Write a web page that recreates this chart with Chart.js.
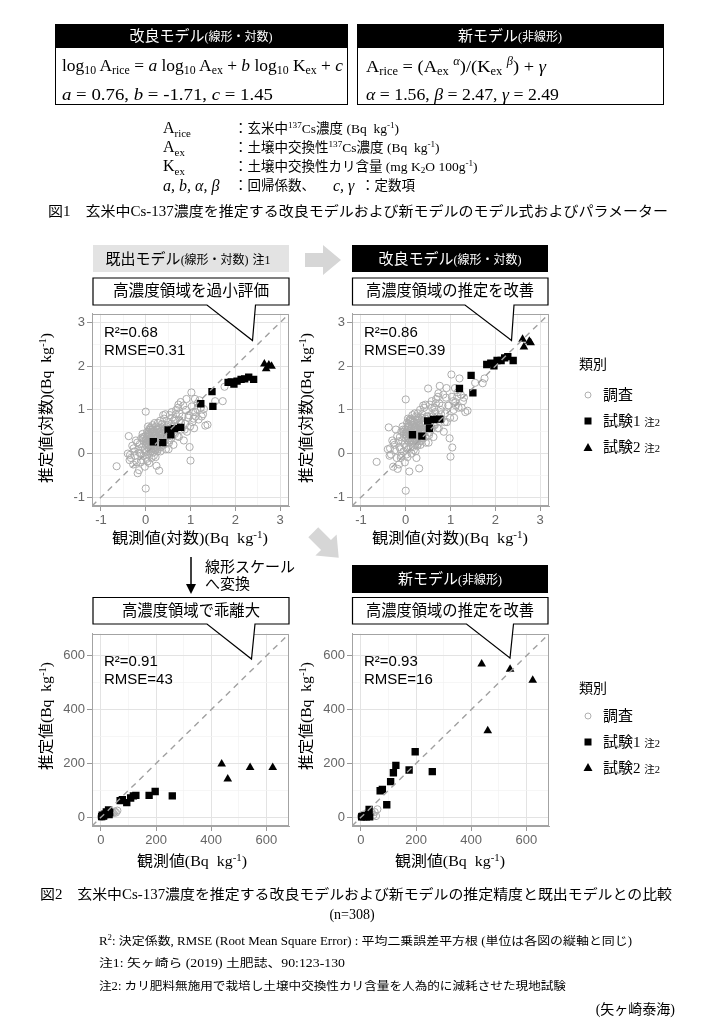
<!DOCTYPE html>
<html>
<head>
<meta charset="utf-8">
<script src="https://cdn.jsdelivr.net/npm/chart.js@4.4.1/dist/chart.umd.min.js"></script>
<style>
body { margin: 0; background: #fff; }
#page { position: relative; width: 705px; height: 1025px; overflow: hidden; color: #000;
  font-family: "Liberation Serif", "Noto Sans CJK JP", serif; }
.t { position: absolute; white-space: nowrap; line-height: 1.2; }
.sb { font-size: 0.68em; vertical-align: -0.3em; }
.sp { font-size: 0.68em; vertical-align: 0.55em; }
.small { font-size: 0.8em; }
.box { position: absolute; box-sizing: border-box; border: 1px solid #000; background: #fff; }
.head { position: absolute; box-sizing: border-box; text-align: center; }
canvas { position: absolute; }
svg { position: absolute; left: 0; top: 0; }
</style>
</head>
<body>
<div id="page">
  <div class="box" style="left:55px;top:24px;width:293px;height:81px;"></div>
  <div class="box" style="left:357px;top:24px;width:307px;height:81px;"></div>
  <div class="head" style="left:55px;top:24px;width:293px;height:24px;background:#000;"></div>
  <div class="head" style="left:357px;top:24px;width:307px;height:24px;background:#000;"></div>
  <div class="head" style="left:93px;top:245px;width:196px;height:27px;background:#e3e3e3;"></div>
  <div class="head" style="left:352px;top:245px;width:196px;height:27px;background:#000;"></div>
  <div class="head" style="left:352px;top:565px;width:196px;height:28px;background:#000;"></div>

  <canvas id="p1" width="245" height="226" style="left:52px;top:304px;"></canvas>
  <canvas id="p2" width="245" height="226" style="left:312px;top:304px;"></canvas>
  <canvas id="p3" width="245" height="226" style="left:52px;top:624px;"></canvas>
  <canvas id="p4" width="245" height="226" style="left:312px;top:624px;"></canvas>

  <svg width="705" height="1025">
    <!-- gray flow arrows -->
    <polygon points="-18,-7 0,-7 0,-15 18,0 0,15 0,7 -18,7" fill="#d6d6d6" transform="translate(323,260)"/>
    <polygon points="-18,-7 0,-7 0,-15 18,0 0,15 0,7 -18,7" fill="#d6d6d6" transform="translate(326,545) rotate(45)"/>
    <!-- down arrow -->
    <line x1="191" y1="557" x2="191" y2="586" stroke="#000" stroke-width="1.5"/>
    <polygon points="186,584 196,584 191,594" fill="#000"/>
    <!-- callouts -->
    <path d="M93,278 H289 V305 H255.5 L252.5,340.5 L207,305 H93 Z" fill="#fff" stroke="#000" stroke-width="1.2"/>
    <path d="M352.5,278 H548 V305 H514 L511.5,340.5 L465,305 H352.5 Z" fill="#fff" stroke="#000" stroke-width="1.2"/>
    <path d="M93,597.5 H289 V624 H255 L251.5,659 L207,624 H93 Z" fill="#fff" stroke="#000" stroke-width="1.2"/>
    <path d="M352.5,597.5 H548 V624 H513.5 L510,658 L466.5,624 H352.5 Z" fill="#fff" stroke="#000" stroke-width="1.2"/>
    <!-- legend symbols -->
    <circle cx="588" cy="395" r="3" fill="none" stroke="#b0b0b0" stroke-width="1"/>
    <rect x="584.5" y="417.5" width="7" height="7" fill="#000"/>
    <polygon points="588,443 592.5,451 583.5,451" fill="#000"/>
    <circle cx="588" cy="716" r="3" fill="none" stroke="#b0b0b0" stroke-width="1"/>
    <rect x="584.5" y="738.5" width="7" height="7" fill="#000"/>
    <polygon points="588,763 592.5,771 583.5,771" fill="#000"/>
  </svg>
</div>

<script>
// ---- data (log10 scale, Bq kg-1) ----
// survey fields (調査): observed, existing-model prediction, improved-model prediction
const surveyObsLog = [
  -0.65, -0.38, -0.35, -0.33, -0.30, -0.28, -0.25, -0.22, -0.20, -0.18,
  -0.16, -0.15, -0.13, -0.12, -0.10, -0.10, -0.08, -0.07, -0.05, -0.04,
  -0.03, -0.02, -0.01, 0.00, 0.00, 0.00, 0.01, 0.02, 0.02, 0.03,
  0.04, 0.05, 0.05, 0.06, 0.07, 0.08, 0.08, 0.09, 0.10, 0.10,
  0.11, 0.12, 0.12, 0.13, 0.14, 0.15, 0.15, 0.16, 0.17, 0.18,
  0.18, 0.19, 0.20, 0.20, 0.21, 0.22, 0.23, 0.24, 0.25, 0.25,
  0.26, 0.27, 0.28, 0.29, 0.30, 0.30, 0.31, 0.32, 0.33, 0.34,
  0.35, 0.36, 0.37, 0.38, 0.40, 0.41, 0.42, 0.44, 0.45, 0.47,
  0.48, 0.50, 0.52, 0.54, 0.55, 0.57, 0.58, 0.60, 0.62, 0.64,
  0.65, 0.67, 0.70, 0.72, 0.74, 0.76, 0.78, 0.80, 0.82, 0.85,
  0.88, 0.90, 0.92, 0.95, 0.98, 1.00, 1.02, 1.04, 1.06, 1.08,
  1.10, 1.12, 1.15, 1.18, 1.20, 1.23, 1.28, 1.33, 1.38, 1.72,
  0.00, 0.05, 0.10, 0.15, 0.20, 0.25, 0.30, 0.35, -0.05, 0.12,
  1.76, 1.55,
  0.02, 0.06, 0.09, 0.13, 0.16, 0.19, 0.22, 0.24, 0.27, 0.29,
  0.31, 0.33, 0.36, 0.39, 0.43, 0.46, 0.03, 0.08, 0.14, 0.21,
  0.26, 0.32, 0.38, 0.11, 0.17, 0.23, 0.28, 0.06, 0.19, 0.34,
  -0.40, -0.36, -0.27, -0.24, -0.19, -0.14, -0.11, -0.06, 0.04, 0.09,
  0.16, 0.22, 0.27, 0.33, 0.39, 0.44, 0.49, 0.53, 0.59, 0.63,
  0.68, 0.71, 0.75, 0.79, 0.84, 0.87, 0.91, 0.96, 0.99, 1.03,
  1.07, 1.11, 1.16, 1.25, 1.30, 0.57, 0.66, 0.73, 0.44, 0.51
];
const surveyOldLog = [
  -0.29, 0.40, -0.03, -0.10, 0.18, -0.25, 0.05, 0.30, -0.20, -0.45,
  0.10, -0.38, 0.22, 0.00, 0.35, -0.15, 0.15, 0.45, -0.05, 0.28,
  0.08, -0.30, 0.40, 0.96, -0.80, 0.20, 0.05, 0.32, -0.12, 0.50,
  0.15, 0.62, -0.02, 0.30, 0.42, 0.10, -0.22, 0.25, 0.55, 0.35,
  0.05, 0.40, 0.20, -0.10, 0.48, 0.30, 0.65, 0.12, 0.38, -0.05,
  0.28, 0.52, 0.18, 0.70, 0.08, 0.42, 0.33, -0.28, 0.55, 0.22,
  0.38, 0.10, 0.60, 0.30, 0.46, -0.39, 0.25, 0.75, 0.40, 0.15,
  0.52, 0.35, 0.68, 0.20, 0.45, 0.80, 0.30, 0.58, 0.10, 0.62,
  0.40, 0.72, 0.25, 0.88, 0.50, 0.35, 0.95, 0.60, 0.20, 0.78,
  0.45, 0.90, 0.62, 1.05, 0.38, 0.75, 1.18, 0.55, 0.85, 0.30,
  0.68, 1.00, 0.50, 0.82, 0.15, -0.16, 1.40, 0.72, 0.95, 0.58,
  1.25, 0.85, 1.02, 0.78, 1.22, 1.05, 0.90, 0.64, 0.66, 1.20,
  0.30, 0.45, 0.15, 0.55, 0.40, 0.12, 0.50, 0.28, 0.35, 0.60,
  1.53, 1.20,
  0.25, 0.45, 0.30, 0.18, 0.50, 0.35, 0.42, 0.15, 0.55, 0.28,
  0.48, 0.22, 0.60, 0.38, 0.50, 0.42, 0.38, 0.20, 0.32, 0.45,
  0.05, 0.58, 0.48, 0.55, 0.12, 0.62, 0.35, 0.50, 0.25, 0.30,
  0.00, -0.15, 0.12, -0.05, 0.25, 0.02, -0.20, 0.38, -0.18, 0.58,
  0.02, -0.08, 0.70, 0.05, 0.88, 0.22, 0.65, 0.30, 0.82, 0.48,
  1.00, 0.40, 0.92, 0.70, 1.10, 0.55, 1.25, 0.88, 0.62, 1.08,
  0.80, 0.95, 1.15, 0.85, 1.02, 0.68, 0.75, 1.12, 0.90, 0.10
];
const surveyNewLog = [
  -0.19, 0.60, 0.12, -0.02, 0.30, -0.30, 0.20, 0.55, -0.10, -0.35,
  0.28, -0.25, 0.38, 0.10, 0.50, -0.05, 0.30, 0.62, 0.05, 0.45,
  0.22, -0.20, 0.55, 1.24, -0.85, 0.35, 0.15, 0.48, -0.02, 0.70,
  0.30, 0.80, 0.10, 0.45, 0.60, 0.25, -0.41, 0.40, 0.75, 0.52,
  0.15, 0.58, 0.35, 0.00, 0.65, 0.45, 0.88, 0.25, 0.55, 0.08,
  0.42, 0.72, 0.32, 0.92, 0.20, 0.60, 0.50, -0.10, 0.78, 0.38,
  0.55, 0.22, 0.82, 0.48, 0.65, -0.34, 0.42, 1.00, 0.60, 0.28,
  0.72, 0.55, 0.90, 0.35, 0.65, 1.05, 0.48, 0.80, 0.25, 0.85,
  0.60, 1.49, 0.42, 1.12, 0.72, 0.55, 1.20, 0.85, 0.38, 1.05,
  0.65, 1.15, 0.85, 1.30, 0.58, 1.55, 1.00, 0.78, 1.10, 0.50,
  0.92, 1.28, 0.72, 1.10, 0.35, -0.07, 1.81, 0.14, 1.20, 0.82,
  1.50, 1.10, 1.30, 1.05, 1.72, 1.35, 1.20, 0.95, 0.98, 1.61,
  0.45, 0.62, 0.30, 0.75, 0.58, 0.28, 0.70, 0.45, 0.50, 0.80,
  1.72, 1.62,
  0.40, 0.62, 0.50, 0.30, 0.70, 0.52, 0.60, 0.28, 0.75, 0.45,
  0.65, 0.38, 0.82, 0.55, 0.70, 0.60, 0.55, 0.35, 0.48, 0.62,
  0.18, 0.78, 0.66, 0.72, 0.28, 0.85, 0.52, 0.68, 0.40, 0.47,
  0.10, -0.05, 0.25, 0.08, 0.40, 0.15, -0.10, 0.55, -0.08, 0.78,
  0.15, 0.05, 0.92, 0.20, 1.10, 0.38, 0.85, 0.48, 1.05, 0.65,
  1.25, 0.58, 1.15, 0.90, 1.35, 0.72, 1.50, 1.10, 0.82, 1.30,
  1.00, 1.18, 1.40, 1.05, 1.28, 0.88, 0.95, 1.38, 1.12, 0.25
];

// trial 1 (試験1) and trial 2 (試験2), log scale
const trial1ObsOldLog = [0.17, 0.38, 0.50, 0.56, 0.64, 0.78, 1.23, 1.48, 1.50, 1.84, 1.91, 1.97, 2.04, 2.13, 2.21, 2.30, 2.41];
const trial1OldLog    = [0.27, 0.25, 0.54, 0.43, 0.57, 0.60, 1.14, 1.42, 1.08, 1.63, 1.64, 1.59, 1.66, 1.70, 1.71, 1.75, 1.70];
const trial1ObsNewLog = [0.15, 0.36, 0.49, 0.53, 0.62, 0.76, 1.20, 1.46, 1.50, 1.81, 1.90, 1.97, 2.04, 2.13, 2.21, 2.28, 2.40];
const trial1NewLog    = [0.43, 0.40, 0.75, 0.58, 0.78, 0.79, 1.49, 1.79, 1.39, 2.04, 2.07, 2.01, 2.13, 2.13, 2.19, 2.22, 2.13];
const trial2ObsOldLog = [2.65, 2.69, 2.75, 2.81];
const trial2OldLog    = [2.05, 1.94, 2.03, 2.00];
const trial2ObsNewLog = [2.61, 2.64, 2.76, 2.79];
const trial2NewLog    = [2.62, 2.44, 2.57, 2.54];

// linear scale (Bq kg-1)
const surveyObsLin = [1, 2, 3, 4, 5, 6, 8, 10, 12, 15, 18, 20, 25, 30, 35, 40, 45, 50, 55, 60, 8, 14, 22];
const surveyOldLin = [2, 3, 2, 4, 5, 3, 6, 8, 6, 10, 12, 9, 15, 14, 18, 20, 16, 22, 18, 25, 12, 4, 20];
const surveyNewLin = [3, 2, 4, 3, 6, 2, 5, 7, 3, 8, 10, 6, 12, 10, 15, 18, 8, 20, 5, 30, 10, 2, 16];
const trial1ObsLin = [3, 5, 10, 15, 20, 28, 30, 32, 70, 78, 94, 108, 118, 127, 175, 197, 259];
const trial1OldLin = [3, 8, 5, 12, 20, 28, 10, 18, 62, 66, 55, 72, 80, 82, 82, 96, 80];
const trial1NewLin = [2, 4, 3, 6, 2, 10, 30, 2, 99, 104, 47, 133, 166, 193, 176, 244, 170];
const trial2ObsLin = [438, 460, 541, 623];
const trial2OldLin = [198, 143, 185, 185];
const trial2NewLin = [570, 322, 550, 509];

// axes
const logRange = [-1.2, 3.2];
const logTicks = [-1, -0.5, 0, 0.5, 1, 1.5, 2, 2.5, 3];
const logMajor = [-1, 0, 1, 2, 3];
const linRange = [-32, 682];
const linTicks = [0, 100, 200, 300, 400, 500, 600];
const linMajor = [0, 200, 400, 600];

const statLabels = [
  ['R²=0.68', 'RMSE=0.31'],
  ['R²=0.86', 'RMSE=0.39'],
  ['R²=0.91', 'RMSE=43'],
  ['R²=0.93', 'RMSE=16']
];

function pairs(xs, ys) {
  return xs.map((x, i) => ({ x: x, y: ys[i] }));
}

// border on all four sides of the panel
const framePlugin = {
  id: 'frame',
  afterDraw(chart) {
    const a = chart.chartArea;
    const c = chart.ctx;
    c.save();
    c.strokeStyle = '#a3a3a3';
    c.lineWidth = 1;
    c.strokeRect(Math.round(a.left) + 0.5, Math.round(a.top) + 0.5, Math.round(a.right - a.left) - 1, Math.round(a.bottom - a.top) - 1);
    c.restore();
  }
};

const statsPlugin = {
  id: 'stats',
  afterDraw(chart, args, opts) {
    const a = chart.chartArea;
    const c = chart.ctx;
    c.save();
    c.font = '15px "Liberation Sans"';
    c.fillStyle = '#000';
    c.textBaseline = 'middle';
    opts.lines.forEach((s, i) => c.fillText(s, a.left + opts.dx, a.top + opts.dy + i * 18));
    c.restore();
  }
};

function axis(range, ticks, majors, isY) {
  const major = c => c.tick && majors.includes(c.tick.value);
  return {
    type: 'linear',
    min: range[0],
    max: range[1],
    afterBuildTicks: a => { a.ticks = ticks.map(v => ({ value: v })); },
    afterFit: s => { if (isY) s.width = 40; else s.height = 24; },
    ticks: {
      autoSkip: false, maxRotation: 0, padding: 2, color: '#666',
      font: { family: 'Liberation Sans', size: 13 },
      callback: v => majors.includes(v) ? String(v) : ''
    },
    grid: {
      color: c => major(c) ? '#e3e3e3' : '#f2f2f2',
      lineWidth: c => major(c) ? 1 : 0.7,
      tickLength: 5,
      tickColor: c => major(c) ? '#999' : 'rgba(0,0,0,0)'
    },
    border: { display: true, color: '#a3a3a3', width: 1 }
  };
}

function makePanel(id, range, ticks, majors, survey, t1, t2, stats, dy) {
  new Chart(document.getElementById(id), {
    type: 'scatter',
    data: {
      datasets: [
        { type: 'line', data: [{ x: range[0], y: range[0] }, { x: range[1], y: range[1] }],
          borderColor: '#a0a0a0', borderWidth: 1.4, borderDash: [6, 5], pointRadius: 0, fill: false },
        { data: t2, pointStyle: 'triangle', pointRadius: 5, backgroundColor: '#000', borderColor: '#000', borderWidth: 0 },
        { data: t1, pointStyle: 'rect', pointRadius: 5.2, backgroundColor: '#000', borderColor: '#000', borderWidth: 0 },
        { data: survey, pointStyle: 'circle', pointRadius: 3.6, backgroundColor: 'rgba(0,0,0,0)', borderColor: '#acacac', borderWidth: 1 }
      ]
    },
    options: {
      responsive: false,
      animation: false,
      layout: { padding: { top: 6, right: 8, left: 0, bottom: 0 } },
      plugins: {
        legend: { display: false },
        tooltip: { enabled: false },
        stats: { lines: stats, dx: 12, dy: dy }
      },
      scales: {
        x: axis(range, ticks, majors, false),
        y: axis(range, ticks, majors, true)
      }
    },
    plugins: [framePlugin, statsPlugin]
  });
}

makePanel('p1', logRange, logTicks, logMajor, pairs(surveyObsLog, surveyOldLog),
  pairs(trial1ObsOldLog, trial1OldLog), pairs(trial2ObsOldLog, trial2OldLog), statLabels[0], 19);
makePanel('p2', logRange, logTicks, logMajor, pairs(surveyObsLog, surveyNewLog),
  pairs(trial1ObsNewLog, trial1NewLog), pairs(trial2ObsNewLog, trial2NewLog), statLabels[1], 19);
makePanel('p3', linRange, linTicks, linMajor, pairs(surveyObsLin, surveyOldLin),
  pairs(trial1ObsLin, trial1OldLin), pairs(trial2ObsLin, trial2OldLin), statLabels[2], 28);
makePanel('p4', linRange, linTicks, linMajor, pairs(surveyObsLin, surveyNewLin),
  pairs(trial1ObsLin, trial1NewLin), pairs(trial2ObsLin, trial2NewLin), statLabels[3], 28);

// ---- text ----
const page = document.getElementById('page');
function label(html, x, y, o) {
  o = o || {};
  const el = document.createElement('div');
  el.className = 't';
  el.innerHTML = html;
  el.style.fontSize = (o.size || 14) + 'px';
  if (o.color) el.style.color = o.color;
  el.style.left = x + 'px';
  el.style.top = y + 'px';
  el.style.zIndex = 5;
  page.appendChild(el);
  const align = o.align || 'left';
  let k = 1;
  if (o.w) k = o.w / el.getBoundingClientRect().width;
  if (o.rot) {
    el.style.transformOrigin = 'center center';
    el.style.transform = 'translate(-50%,-50%) rotate(-90deg) scaleX(' + k + ')';
  } else if (align === 'center') {
    el.style.transformOrigin = 'center center';
    el.style.transform = 'translate(-50%,-50%) scaleX(' + k + ')';
  } else if (align === 'right') {
    el.style.transformOrigin = 'right center';
    el.style.transform = 'translate(-100%,-50%) scaleX(' + k + ')';
  } else {
    el.style.transformOrigin = 'left center';
    el.style.transform = 'translateY(-50%) scaleX(' + k + ')';
  }
  return el;
}

const kg = '(Bq&nbsp;&nbsp;kg<span class="sp">-1</span>)';

// figure 1
label('改良モデル<span class="small">(線形・対数)</span>', 201, 36, { size: 15, align: 'center', color: '#fff' });
label('新モデル<span class="small">(非線形)</span>', 510, 36, { size: 15, align: 'center', color: '#fff' });
label('log<span class="sb">10</span> A<span class="sb">rice</span> = <i>a</i> log<span class="sb">10</span> A<span class="sb">ex</span> + <i>b</i> log<span class="sb">10</span> K<span class="sb">ex</span> + <i>c</i>', 62, 67, { size: 17, w: 281 });
label('<i>a</i> = 0.76, <i>b</i> = -1.71, <i>c</i> = 1.45', 62, 95, { size: 17, w: 211 });
label('A<span class="sb">rice</span> = (A<span class="sb">ex</span> <span class="sp"><i>α</i></span>)/(K<span class="sb">ex</span> <span class="sp"><i>β</i></span>) + <i>γ</i>', 366, 67, { size: 17, w: 180 });
label('<i>α</i> = 1.56, <i>β</i> = 2.47, <i>γ</i> = 2.49', 366, 95, { size: 17, w: 193 });

label('A<span class="sb">rice</span>', 163, 129, { size: 16 });
label('A<span class="sb">ex</span>', 163, 148, { size: 16 });
label('K<span class="sb">ex</span>', 163, 167, { size: 16 });
label('<i>a, b, α, β</i>', 163, 186, { size: 16 });
label('：玄米中<span class="sp">137</span>Cs濃度 ' + kg, 234, 129, { size: 13.5 });
label('：土壌中交換性<span class="sp">137</span>Cs濃度 ' + kg, 234, 148, { size: 13.5 });
label('：土壌中交換性カリ含量 (mg&nbsp;K<span class="sb">2</span>O&nbsp;100g<span class="sp">-1</span>)', 234, 167, { size: 13.5 });
label('：回帰係数、', 234, 186, { size: 13.5 });
label('<i>c, γ</i>', 333, 186, { size: 16 });
label('：定数項', 361, 186, { size: 13.5 });
label('図1　玄米中Cs-137濃度を推定する改良モデルおよび新モデルのモデル式およびパラメーター', 48, 212, { size: 14, w: 620 });

// panel headings and callouts
label('既出モデル<span class="small">(線形・対数)</span> <span style="font-size:0.8em">注1</span>', 188, 259, { size: 15, align: 'center' });
label('改良モデル<span class="small">(線形・対数)</span>', 450, 259, { size: 15, align: 'center', color: '#fff' });
label('新モデル<span class="small">(非線形)</span>', 450, 579, { size: 15, align: 'center', color: '#fff' });
label('高濃度領域を過小評価', 191, 291, { size: 16, align: 'center', w: 156 });
label('高濃度領域の推定を改善', 450, 291, { size: 16, align: 'center', w: 168 });
label('高濃度領域で乖離大', 191, 611, { size: 16, align: 'center', w: 138 });
label('高濃度領域の推定を改善', 450, 611, { size: 16, align: 'center', w: 168 });
label('線形スケール', 205, 567, { size: 15 });
label('へ変換', 205, 584, { size: 15 });

// axis titles
label('観測値(対数)' + kg, 190, 538, { size: 15, align: 'center', w: 156 });
label('観測値(対数)' + kg, 450, 538, { size: 15, align: 'center', w: 156 });
label('観測値' + kg, 192, 861, { size: 15, align: 'center', w: 110 });
label('観測値' + kg, 450, 861, { size: 15, align: 'center', w: 110 });
label('推定値(対数)' + kg, 46, 408, { size: 15, rot: true, w: 150 });
label('推定値(対数)' + kg, 306, 408, { size: 15, rot: true, w: 150 });
label('推定値' + kg, 46, 716, { size: 15, rot: true, w: 108 });
label('推定値' + kg, 306, 716, { size: 15, rot: true, w: 108 });

// legends
[[365, 395, 421, 447], [689, 716, 742, 768]].forEach(r => {
  label('類別', 579, r[0], { size: 14 });
  label('調査', 603, r[1], { size: 15 });
  label('試験1 <span style="font-size:0.7em">注2</span>', 603, r[2], { size: 15 });
  label('試験2 <span style="font-size:0.7em">注2</span>', 603, r[3], { size: 15 });
});

// figure 2 caption and notes
label('図2　玄米中Cs-137濃度を推定する改良モデルおよび新モデルの推定精度と既出モデルとの比較', 40, 895, { size: 14, w: 632 });
label('(n=308)', 352, 915, { size: 14, align: 'center' });
label('R<span class="sp">2</span>: 決定係数, RMSE (Root Mean Square Error) : 平均二乗誤差平方根 (単位は各図の縦軸と同じ)', 99, 941, { size: 11.5, w: 533 });
label('注1: 矢ヶ崎ら (2019) 土肥誌、90:123-130', 99, 964, { size: 11.5, w: 246 });
label('注2: カリ肥料無施用で栽培し土壌中交換性カリ含量を人為的に減耗させた現地試験', 99, 987, { size: 11.5, w: 467 });
label('(矢ヶ崎泰海)', 675, 1010, { size: 14, align: 'right' });
</script>
</body>
</html>
